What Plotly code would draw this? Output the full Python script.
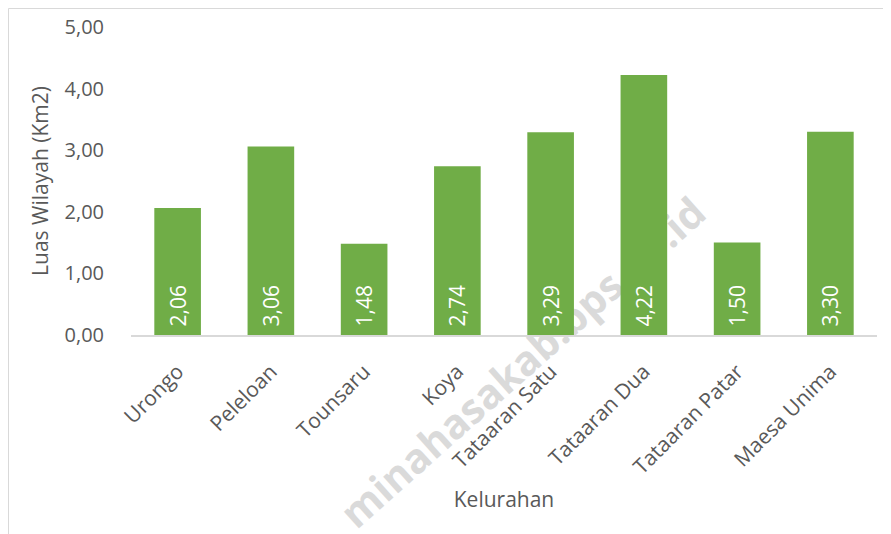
import plotly.graph_objects as go

# Data
kelurahan = ["Urongo", "Peleloan", "Tounsaru", "Koya", "Tataaran Satu",
             "Tataaran Dua", "Tataaran Patar", "Maesa Unima"]
luas_wilayah = [2.06, 3.06, 1.48, 2.74, 3.29, 4.22, 1.50, 3.30]
y_ticks = [0, 1, 2, 3, 4, 5]
watermark = "minahasakab.bps.go.id"

FONT = "Open Sans, Liberation Sans, sans-serif"
GREY = "#595959"

# page body adds an 8px margin, so the figure is sized a bit smaller
W, H = 883, 526
L, R, T, B = 123, 14, 19, 199
PW, PH = W - L - R, H - T - B


def px(x):
    return (x - L) / PW


def py(y):
    return (H - B - y) / PH


fig = go.Figure(
    go.Bar(
        x=kelurahan,
        y=luas_wilayah,
        marker=dict(color="#70AD47", line=dict(width=0)),
        # leading nbsp lifts the label off the axis a little
        text=["\u00a0" + f"{v:.2f}".replace(".", ",") for v in luas_wilayah],
        textposition="inside",
        insidetextanchor="start",
        textangle=-90,
        textfont=dict(color="white", size=21, family=FONT),
        hoverinfo="x+y",
    )
)

fig.update_layout(
    width=W,
    height=H,
    separators=",.",
    plot_bgcolor="rgba(0,0,0,0)",
    paper_bgcolor="white",
    bargap=0.5,
    showlegend=False,
    margin=dict(l=L, r=R, t=T, b=B, autoexpand=False),
    font=dict(family=FONT, color=GREY, size=20),
    xaxis=dict(
        title=dict(text="Kelurahan", font=dict(size=21, color=GREY), standoff=14),
        tickangle=-45,
        tickfont=dict(size=21, color=GREY),
        showline=True,
        linecolor="#D9D9D9",
        linewidth=2,
        ticks="outside",
        ticklen=14,
        tickcolor="rgba(0,0,0,0)",
    ),
    yaxis=dict(
        title=dict(text="Luas Wilayah (Km2)", font=dict(size=21, color=GREY), standoff=10),
        range=[0, 5],
        tickvals=y_ticks,
        tickformat=".2f",
        tickfont=dict(size=20, color=GREY),
        showgrid=False,
        zeroline=False,
        ticks="outside",
        ticklen=22,
        tickcolor="rgba(0,0,0,0)",
    ),
    shapes=[
        # outer chart border (only top and left edges fall inside the page)
        dict(type="rect", xref="paper", yref="paper",
             x0=px(0.5), x1=px(W + 10), y0=py(H + 10), y1=py(0.5),
             line=dict(color="#D9D9D9", width=1), fillcolor="rgba(0,0,0,0)",
             layer="below"),
        # watermark, behind the bars
        dict(type="line", xref="paper", yref="paper",
             x0=px(338), y0=py(556), x1=px(735), y1=py(202),
             line=dict(color="rgba(0,0,0,0)", width=0),
             layer="below",
             label=dict(text=watermark, textposition="middle",
                        font=dict(size=41, color="#DADADA", family=FONT,
                                  weight=700))),
    ],
)

fig.write_html("out.html")
